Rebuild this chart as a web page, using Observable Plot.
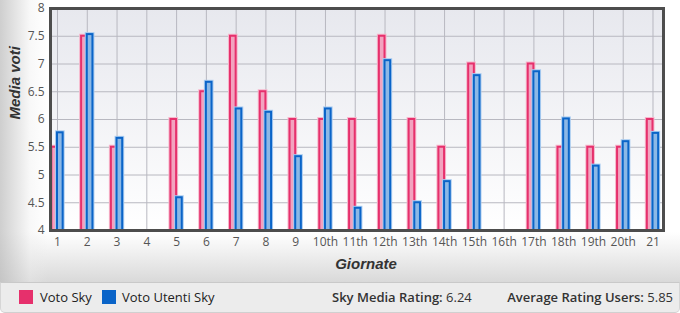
<!DOCTYPE html>
<html>
<head>
<meta charset="utf-8">
<script src="https://cdn.jsdelivr.net/npm/d3@7"></script>
<script src="https://cdn.jsdelivr.net/npm/@observablehq/plot@0.6"></script>
<style>
  html, body { margin: 0; padding: 0; background: #fff; }
  #wrap { width: 680px; height: 313px; position: relative; overflow: hidden; }
  #chart svg { display: block; }
  #legend {
    position: absolute; left: 0; top: 282px; width: 678px; height: 29px;
    background: #ececec; border-top: 1px solid #c9c9c9; border-left: 1px solid #d6d6d6; border-right: 1px solid #d6d6d6; border-bottom: 1px solid #d0d0d0;
    border-radius: 0 0 5px 5px;
    font-family: "Open Sans", sans-serif; font-size: 13px; color: #222;
  }
  .sw { position: absolute; top: 7px; width: 14px; height: 14px; }
  .lt { position: absolute; top: 5px; white-space: nowrap; }
  .st { position: absolute; top: 5px; white-space: nowrap; font-size: 13px; color: #333; }
  .st b { font-weight: 600; }
</style>
</head>
<body>
<div id="wrap">
  <div id="chart"></div>
  <div id="legend"></div>
</div>
<script>
// ---- data ----
const giornate = [1,2,3,4,5,6,7,8,9,10,11,12,13,14,15,16,17,18,19,20,21];
const tickLabels = ["1","2","3","4","5","6","7","8","9","10th","11th","12th","13th","14th","15th","16th","17th","18th","19th","20th","21"];
const votoSky    = [5.5, 7.5, 5.5, null, 6.0, 6.5, 7.5, 6.5, 6.0, 6.0, 6.0, 7.5, 6.0, 5.5, 7.0, null, 7.0, 5.5, 5.5, 5.5, 6.0];
const votoUtenti = [5.76, 7.53, 5.66, null, 4.59, 6.67, 6.19, 6.13, 5.33, 6.19, 4.40, 7.06, 4.50, 4.88, 6.79, null, 6.86, 6.01, 5.16, 5.60, 5.75];
const yTicks = [4, 4.5, 5, 5.5, 6, 6.5, 7, 7.5, 8];
const seriesNames = ["Voto Sky", "Voto Utenti Sky"];
const seriesColors = ["#e6306c", "#0a64c8"];
const seriesFills = ["#f2a3bf", "#8cb8e6"];
const yTitle = "Media voti";
const xTitle = "Giornate";
const summaryLabels = ["Sky Media Rating:", "Average Rating Users:"];

const rows = giornate.map((g, i) => ({g, label: tickLabels[i], sky: votoSky[i], users: votoUtenti[i]}));
const mean = a => { const v = a.filter(d => d != null); return d3.mean(v); };
const yMin = yTicks[0];
const bw = 0.19;

const plot = Plot.plot({
  width: 680, height: 282,
  marginTop: 8, marginLeft: 50, marginRight: 17, marginBottom: 52,
  style: {
    fontFamily: "'Open Sans', sans-serif", fontSize: "12px", color: "#555",
    background: "linear-gradient(to right, rgba(190,190,190,0.75) 0px, rgba(235,235,235,0.35) 30px, rgba(255,255,255,0) 48px), linear-gradient(to bottom, #ffffff 0px, #ffffff 232px, #f2f2f2 250px, #d9d9d9 282px)"
  },
  x: {type: "linear", domain: [0.765, 21.353], axis: null},
  y: {domain: [yTicks[0], yTicks[yTicks.length - 1]], axis: null},
  marks: [
    Plot.frame({fill: "#f0f0f4"}),
    Plot.gridY({ticks: yTicks.slice(1, -1), stroke: "#b8b8c0", strokeOpacity: 1}),
    Plot.gridX({ticks: giornate, stroke: "#b8b8c0", strokeOpacity: 1}),
    Plot.rectY(rows.filter(d => d.sky != null), {
      x1: d => d.g - bw, x2: d => d.g, y1: yMin, y2: "sky",
      fill: seriesFills[0], stroke: "#f6b7cc", strokeWidth: 4
    }),
    Plot.rectY(rows.filter(d => d.sky != null), {
      x1: d => d.g - bw, x2: d => d.g, y1: yMin, y2: "sky",
      fill: seriesFills[0], stroke: seriesColors[0], strokeWidth: 2
    }),
    Plot.rectY(rows.filter(d => d.users != null), {
      x1: d => d.g, x2: d => d.g + bw, y1: yMin, y2: "users",
      fill: seriesFills[1], stroke: "#a8cbf0", strokeWidth: 4
    }),
    Plot.rectY(rows.filter(d => d.users != null), {
      x1: d => d.g, x2: d => d.g + bw, y1: yMin, y2: "users",
      fill: seriesFills[1], stroke: seriesColors[1], strokeWidth: 2
    }),
    Plot.frame({stroke: "#4d4d4d", strokeWidth: 3}),
    Plot.axisY({ticks: yTicks, tickSize: 0, tickPadding: 6, label: null, fill: "#555", tickFormat: d => String(d)}),
    Plot.axisX({ticks: giornate, tickSize: 0, tickPadding: 7, label: null, tickFormat: d => tickLabels[d - 1], fill: "#555"}),
    Plot.text([yTitle], {text: d => d, frameAnchor: "left", dx: -35, rotate: -90,
      fontFamily: "'Liberation Sans', Arial, sans-serif", fontSize: 15, fontWeight: "bold", fontStyle: "italic", fill: "#333"}),
    Plot.text([xTitle], {text: d => d, frameAnchor: "bottom", dy: 38, dx: 9,
      fontFamily: "'Liberation Sans', Arial, sans-serif", fontSize: 15, fontWeight: "bold", fontStyle: "italic", fill: "#333"})
  ]
});

// gradient fill for plot area
const svg = d3.select(plot);
const defs = svg.insert("defs", ":first-child");
const lg = defs.append("linearGradient").attr("id", "pbg").attr("x1", 0).attr("y1", 0).attr("x2", 0).attr("y2", 1);
lg.append("stop").attr("offset", "0%").attr("stop-color", "#e7e8ee");
lg.append("stop").attr("offset", "100%").attr("stop-color", "#ffffff");
const firstFrame = svg.select('[aria-label="frame"]');
firstFrame.attr("fill", "url(#pbg)");
firstFrame.selectAll("rect").attr("fill", "url(#pbg)");

document.getElementById("chart").appendChild(plot);

// legend / footer
const legend = d3.select("#legend");
const lx = [[18, 39], [101, 121]];
seriesNames.forEach((n, i) => {
  legend.append("div").attr("class", "sw").style("left", lx[i][0] + "px").style("background", seriesColors[i]);
  legend.append("div").attr("class", "lt").style("left", lx[i][1] + "px").text(n);
});
const s1 = legend.append("div").attr("class", "st").style("left", "331px");
s1.append("b").text(summaryLabels[0]);
s1.append("span").text(" " + mean(votoSky).toFixed(2));
const s2 = legend.append("div").attr("class", "st").style("right", "6px");
s2.append("b").text(summaryLabels[1]);
s2.append("span").text(" " + mean(votoUtenti).toFixed(2));
</script>
</body>
</html>
